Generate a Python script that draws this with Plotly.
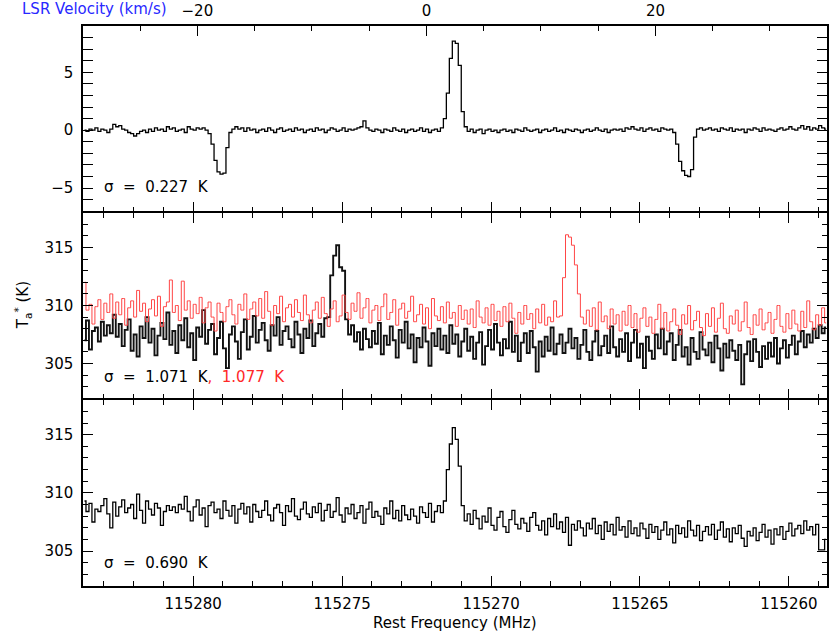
import numpy as np
import plotly.graph_objects as go

# ---------------- data ----------------
F_START = 115283.65   # MHz, first channel centre
D_CHAN = 0.1          # MHz channel spacing (frequency decreasing)
F_REST_REF = 115272.17  # MHz, frequency at V_LSR = 0 on the top axis
C_KMS = 299792.458

top_diff = [
    0.0, -0.1, 0.1, 0.0, 0.2, -0.1, 0.1, 0.0, -0.2, 0.1,
    0.5, 0.3, 0.4, 0.1, 0.0, -0.2, -0.3, -0.5, -0.3, -0.1,
    0.0, -0.2, 0.1, -0.1, 0.2, 0.0, 0.1, -0.1, 0.3, 0.1,
    0.2, -0.1, 0.0, 0.1, -0.2, 0.3, 0.1, 0.0, 0.2, 0.1,
    0.2, 0.0, -0.3, -1.2, -2.6, -3.6, -3.8, -3.7, -1.5, -0.2,
    0.1, 0.3, 0.1, 0.2, -0.1, 0.2, 0.0, 0.1, -0.2, 0.0,
    0.1, -0.1, 0.2, 0.0, -0.2, 0.1, 0.2, -0.1, 0.0, 0.1,
    -0.1, 0.2, 0.0, 0.1, -0.2, 0.0, 0.1, -0.1, 0.2, 0.0,
    0.1, -0.2, 0.0, 0.2, 0.1, -0.1, 0.0, 0.2, -0.1, 0.1,
    0.0, 0.1, 0.2, 0.3, 0.8, 0.2, 0.0, -0.1, 0.1, 0.0,
    -0.2, 0.1, 0.0, -0.1, 0.2, 0.0, -0.1, 0.1, -0.2, 0.0,
    0.1, -0.1, 0.0, 0.2, -0.1, 0.1, -0.2, 0.0, 0.1, -0.1,
    0.2, 1.0, 3.2, 6.2, 7.7, 7.5, 5.6, 1.6, 0.3, -0.1,
    0.1, -0.2, 0.0, 0.1, -0.3, 0.0, 0.1, -0.1, 0.0, -0.2,
    0.0, 0.1, -0.1, 0.0, -0.2, 0.1, 0.0, -0.1, 0.2, 0.0,
    -0.1, 0.0, 0.1, -0.2, 0.0, 0.1, -0.1, 0.0, 0.2, -0.1,
    0.0, -0.2, 0.1, 0.0, -0.1, 0.1, 0.0, -0.2, 0.0, 0.1,
    -0.1, 0.0, 0.2, 0.0, -0.1, 0.1, -0.2, 0.0, 0.1, 0.0,
    0.1, -0.1, 0.2, 0.1, 0.3, 0.1, 0.0, 0.2, -0.1, 0.1,
    0.2, 0.0, 0.1, -0.1, 0.2, 0.1, 0.0, 0.1, -0.2, -1.2,
    -2.7, -3.5, -3.9, -4.0, -3.4, -0.6, 0.1, 0.2, 0.0, 0.1,
    0.2, 0.0, 0.1, -0.1, 0.2, 0.1, 0.0, 0.2, -0.1, 0.1,
    0.0, 0.1, -0.2, 0.1, 0.0, 0.2, 0.1, -0.1, 0.2, 0.0,
    0.1, 0.0, -0.1, 0.1, 0.2, 0.0, 0.1, 0.3, 0.1, 0.0,
    0.2, 0.4, 0.1, 0.3, 0.0, 0.2, 0.1, 0.4, 0.2, 0.1,
]

mid_black = [
    307.0, 308.7, 306.2, 307.8, 308.1, 306.9, 308.6, 307.4, 308.3, 307.6,
    309.2, 307.3, 308.4, 306.5, 307.9, 308.8, 306.1, 307.5, 305.6, 308.2,
    307.2, 309.0, 306.8, 308.0, 305.7, 307.4, 308.5, 307.1, 309.4, 306.6,
    307.8, 305.9, 308.3, 307.0, 308.9, 306.4, 307.6, 305.3, 308.1, 307.3,
    309.6, 306.7, 307.9, 308.4, 305.8, 307.2, 308.6, 306.3, 304.6, 307.5,
    308.2, 306.9, 305.4, 307.7, 308.8, 306.2, 307.3, 309.1, 306.8, 307.9,
    308.5, 307.0, 306.1, 308.3, 307.4, 309.0, 306.6, 307.8, 308.2, 307.1,
    306.4, 308.6, 307.5, 305.9, 308.0, 307.2, 308.7, 306.5, 307.6, 308.4,
    307.3, 308.9, 309.0, 312.6, 314.3, 315.2, 313.3, 313.0, 308.8, 307.5,
    308.3, 306.9, 307.7, 306.2, 308.0, 307.1, 306.4, 307.8, 306.7, 308.5,
    305.8, 307.4, 306.6, 308.2, 307.0, 305.5, 307.9, 306.8, 308.6, 306.3,
    307.5, 305.1, 307.2, 306.4, 308.1, 306.9, 304.8, 307.6, 306.5, 308.0,
    306.2, 307.4, 305.9, 308.3, 306.7, 307.5, 305.6, 306.9, 308.0, 306.1,
    307.3, 305.4, 306.8, 307.7, 304.9, 306.5, 307.9, 306.2, 308.4, 306.8,
    305.7, 307.1, 306.3, 308.6, 306.0, 307.4, 305.2, 306.8, 307.6, 305.9,
    307.8, 306.4, 304.3, 306.9, 305.6, 307.3, 306.1, 308.1, 305.8, 306.7,
    307.5, 305.9, 306.8, 308.0, 306.3, 307.2, 305.4, 306.6, 307.9, 306.0,
    305.3, 306.9, 307.8, 305.7, 306.5, 307.4, 305.9, 308.2, 306.4, 305.6,
    307.1, 306.0, 307.6, 305.2, 306.8, 307.9, 305.5, 306.7, 304.6, 307.3,
    306.1, 305.4, 307.5, 306.3, 308.0, 305.8, 306.9, 307.6, 305.3, 306.6,
    307.9, 305.6, 306.4, 304.9, 307.2, 306.0, 305.4, 307.7, 306.2, 305.7,
    306.8, 305.1, 307.4, 306.3, 304.4, 306.7, 305.5, 307.0, 306.1, 305.3,
    306.6, 303.2, 305.8, 306.9, 305.2, 307.1, 306.0, 304.7, 306.5, 305.4,
    306.8, 305.6, 307.2, 305.0, 306.3, 307.0, 305.5, 306.6, 307.4, 305.8,
    306.9, 307.8, 306.4, 307.5, 306.8, 308.0, 307.2, 308.3, 307.6, 308.1,
]

mid_red = [
    312.0, 309.6, 310.1, 308.4, 309.9, 310.5, 308.8, 310.2, 309.4, 311.0,
    308.9, 310.3, 309.2, 310.6, 308.3, 309.8, 310.4, 309.0, 311.3, 309.5,
    310.2, 308.6, 309.7, 310.5, 309.1, 310.8, 308.2, 309.9, 310.3, 312.2,
    309.4, 310.0, 308.7, 312.1, 309.6, 310.4, 308.9, 310.1, 309.3, 310.7,
    308.5, 309.8, 310.3, 309.0, 307.8, 310.2, 309.4, 308.6, 309.9, 310.5,
    309.2, 308.4, 310.1, 309.6, 311.0, 308.8, 309.7, 310.3, 309.1, 310.6,
    308.9, 311.2, 309.5, 308.3, 310.0, 309.3, 310.8, 308.6, 309.8, 310.1,
    309.0, 310.5, 309.4, 308.7, 310.9, 309.2, 308.5, 309.6, 310.3, 308.9,
    310.7, 309.3, 308.2, 309.7, 310.4, 308.6, 309.1, 310.9, 309.4, 308.8,
    310.2, 309.5, 311.1, 308.9, 309.8, 310.6, 308.5, 309.6, 310.0, 308.7,
    309.9, 311.0, 308.8, 309.4, 310.5, 308.3, 309.7, 310.2, 308.9, 309.5,
    310.8, 308.6, 309.2, 310.1, 308.4, 309.8, 308.0, 310.6, 309.1, 308.7,
    309.9, 308.5, 310.3, 308.9, 309.4, 308.2, 310.0, 308.8, 309.6, 308.4,
    309.7, 308.1, 310.4, 309.0, 308.5, 309.8, 308.3, 310.1, 308.7, 309.5,
    308.2, 309.9, 308.6, 310.2, 308.9, 307.6, 309.4, 308.4, 310.0, 308.8,
    309.3, 308.0, 309.7, 308.5, 310.1, 308.3, 309.0, 308.6, 310.4, 309.0,
    309.1, 312.4, 316.1, 315.9, 315.2, 313.5, 311.0, 309.0, 308.4, 309.6,
    308.2, 309.8, 307.9, 310.3, 308.6, 309.1, 308.0, 309.7, 308.4, 309.2,
    307.8, 309.5, 308.3, 310.0, 308.1, 309.3, 307.7, 308.9, 309.8, 308.2,
    309.0, 307.6, 308.8, 310.1, 308.0, 309.4, 307.8, 308.6, 309.7, 308.3,
    307.5, 309.2, 308.4, 310.0, 307.9, 308.7, 309.5, 308.1, 307.4, 309.3,
    308.2, 309.8, 307.7, 308.9, 310.2, 308.0, 307.6, 309.1, 308.4, 309.6,
    307.8, 308.6, 310.3, 308.1, 307.5, 309.2, 308.3, 309.7, 307.9, 308.5,
    309.4, 307.6, 308.8, 310.0, 308.2, 307.7, 309.3, 308.0, 309.6, 308.4,
    307.8, 309.5, 308.1, 310.4, 308.6, 307.9, 309.2, 308.3, 309.8, 308.5,
]

bottom_spec = [
    309.3, 308.4, 309.1, 307.5, 308.6, 308.4, 308.9, 309.5, 308.2, 307.0,
    309.2, 308.0, 308.8, 309.4, 308.3, 308.7, 309.0, 307.8, 309.9, 308.5,
    307.4, 309.3, 308.6, 308.1, 309.1, 308.7, 307.2, 308.4, 308.9, 308.5,
    308.8, 308.3, 309.0, 308.6, 309.7, 308.4, 307.6, 308.8, 309.4, 308.1,
    308.7, 307.1, 308.9, 309.2, 308.3, 308.6, 307.8, 309.3, 308.5, 308.0,
    308.9, 307.4, 308.6, 309.1, 308.2, 308.8, 307.5, 309.0, 308.4, 307.9,
    308.5, 309.3, 308.1, 307.6, 308.7, 309.0, 308.3, 307.2, 308.9, 308.4,
    309.5, 308.0, 307.7, 308.6, 309.2, 308.2, 307.9, 308.8, 308.3, 309.1,
    307.6, 308.5, 309.0, 307.9, 308.4, 309.6, 308.1, 307.5, 308.7, 308.2,
    309.0, 307.8, 308.3, 308.9, 307.4, 308.6, 309.2, 307.9, 308.4, 308.0,
    307.3, 308.7, 308.2, 309.3, 307.8, 308.5, 307.6, 308.9, 308.1, 307.7,
    308.6, 308.0, 307.4, 308.8, 308.3, 307.9, 309.1, 307.5, 308.4, 308.9,
    308.3, 309.3, 312.0, 314.2, 315.6, 314.6, 312.3, 308.9, 307.6, 308.2,
    307.3, 308.5, 307.8, 306.9, 308.0, 307.5, 308.7, 307.2, 306.8, 307.9,
    308.4, 307.1, 306.6, 307.7, 308.5, 307.3, 306.9, 307.8, 307.4, 306.7,
    307.9, 308.3, 307.2, 306.8, 307.6, 306.4, 307.8, 307.1, 308.2, 306.9,
    307.5, 306.6, 307.9, 305.5, 307.3, 306.8, 307.6, 307.0, 306.3, 307.4,
    306.9, 307.8, 306.5, 307.2, 306.0, 307.5, 306.7, 307.3, 306.4, 307.9,
    306.8, 307.1, 306.2, 307.6, 306.5, 307.0, 306.3, 307.4, 306.9, 306.1,
    307.3, 306.6, 307.1, 306.0, 306.8, 307.5, 306.4, 306.9, 305.7, 307.2,
    306.5, 307.0, 306.2, 307.6, 306.8, 306.3, 307.2, 305.9, 306.7, 307.1,
    306.4, 307.3, 306.0, 306.8, 307.5, 306.2, 306.9, 305.8, 307.0, 306.5,
    307.2, 306.1, 305.4, 306.7, 306.3, 307.0, 305.9, 306.6, 307.3, 306.2,
    306.8, 305.6, 306.9, 306.4, 307.1, 306.0, 306.7, 307.4, 306.3, 306.9,
    307.2, 306.5, 307.6, 306.8, 307.1, 306.4, 307.3, 305.1, 305.1, 306.0,
]

sigma_top = "0.227"
sigma_mid_black = "1.071"
sigma_mid_red = "1.077"
sigma_bottom = "0.690"

freq_range = [115283.7, 115258.72]

# ---------------- figure ----------------
n_chan = len(top_diff)
freq = F_START - D_CHAN * np.arange(n_chan)
vel_range = [(F_REST_REF - f) / F_REST_REF * C_KMS for f in freq_range]

FONT = "DejaVu Sans"
FS = 15
BLACK = "#000000"
RED = "rgb(255,70,70)"
BLUE = "rgb(40,40,255)"
LW = 1.5

fig = go.Figure()
fig.add_trace(go.Scatter(x=freq, y=top_diff, mode="lines", line=dict(color=BLACK, width=1.3, shape="hvh"),
                         xaxis="x3", yaxis="y3", showlegend=False))
fig.add_trace(go.Scatter(x=freq, y=mid_black, mode="lines", line=dict(color="#111111", width=1.9, shape="hvh"),
                         xaxis="x2", yaxis="y2", showlegend=False))
fig.add_trace(go.Scatter(x=freq, y=mid_red, mode="lines", line=dict(color=RED, width=1.0, shape="hvh"),
                         xaxis="x2", yaxis="y2", showlegend=False))
fig.add_trace(go.Scatter(x=freq, y=bottom_spec, mode="lines", line=dict(color=BLACK, width=1.3, shape="hvh"),
                         xaxis="x", yaxis="y", showlegend=False))
# invisible trace to activate the velocity axis
fig.add_trace(go.Scatter(x=vel_range, y=[0, 0], mode="lines", line=dict(width=0), opacity=0,
                         xaxis="x4", yaxis="y3", showlegend=False, hoverinfo="skip"))

H_PLOT = 560.0
PLOT_BOTTOM = 586.0

def fy(ypix):
    return (PLOT_BOTTOM - ypix) / H_PLOT

# panel boundaries at y=399 and y=212 (line centres); leave a gap = line width so lines coincide
dom_bottom = [0, fy(399 + LW / 2)]
dom_mid = [fy(399 - LW / 2), fy(212 + LW / 2)]
dom_top = [fy(212 - LW / 2), 1]

axis_common = dict(showline=True, linecolor=BLACK, linewidth=LW, showgrid=False, zeroline=False,
                   ticks="inside", ticklen=10, tickwidth=1.3, tickcolor=BLACK,
                   tickfont=dict(family=FONT, size=FS, color=BLACK))
minor = dict(ticks="inside", ticklen=5, tickwidth=1.3, tickcolor=BLACK, dtick=1, showgrid=False)

xcommon = dict(axis_common, range=freq_range, dtick=5, tick0=115260, minor=minor)

fig.update_layout(
    width=830, height=632,
    margin=dict(l=83, r=1, t=26, b=46),
    paper_bgcolor="white", plot_bgcolor="white",
    font=dict(family=FONT, size=FS, color=BLACK),
    xaxis=dict(xcommon, anchor="y", mirror="allticks", ticklabelstandoff=3, tickformat="d"),
    xaxis2=dict(xcommon, anchor="y2", matches="x", mirror="allticks", showticklabels=False),
    xaxis3=dict(xcommon, anchor="y3", matches="x", mirror=True, showticklabels=False),
    xaxis4=dict(axis_common, overlaying="x3", side="top", anchor="y3", range=vel_range,
                showline=False, dtick=20, tick0=0, ticklabelstandoff=6,
                minor=dict(minor, dtick=5)),
    yaxis=dict(axis_common, domain=dom_bottom, range=[302, 318], dtick=5, minor=minor,
               mirror="allticks", ticklabelstandoff=5),
    yaxis2=dict(axis_common, domain=dom_mid, range=[302, 318], dtick=5, minor=minor,
                mirror="allticks", ticklabelstandoff=5),
    yaxis3=dict(axis_common, domain=dom_top, range=[-7, 9], dtick=5, minor=minor,
                mirror="allticks", ticklabelstandoff=5),
)

def fx(xpix):
    return (xpix - 83) / 746.0

sp = "\u00a0\u00a0"
ann_font = dict(family=FONT, size=FS, color=BLACK)
annotations = [
    dict(text=f"σ{sp}={sp}{sigma_top}{sp}K", x=fx(102), y=fy(187)),
    dict(text=f"σ{sp}={sp}{sigma_mid_black}{sp}K<span style='color:rgb(255,40,40)'>,{sp}{sigma_mid_red}{sp}K</span>",
         x=fx(102), y=fy(377)),
    dict(text=f"σ{sp}={sp}{sigma_bottom}{sp}K", x=fx(102), y=fy(563)),
]
for a in annotations:
    fig.add_annotation(xref="paper", yref="paper", xanchor="left", yanchor="middle",
                       showarrow=False, font=ann_font, **a)

fig.add_annotation(text="T<sub>a</sub><sup>*</sup> (K)", xref="paper", yref="paper",
                   x=fx(22), y=fy(305), xanchor="center", yanchor="middle",
                   textangle=-90, showarrow=False, font=ann_font)
fig.add_annotation(text="Rest Frequency (MHz)", xref="paper", yref="paper",
                   x=fx(456), y=fy(623), xanchor="center", yanchor="middle",
                   showarrow=False, font=ann_font)
fig.add_annotation(text="LSR Velocity (km/s)", xref="paper", yref="paper",
                   x=fx(169), y=fy(9), xanchor="right", yanchor="middle",
                   showarrow=False, font=dict(family=FONT, size=FS, color=BLUE))

fig.write_html("out.html", config={"displayModeBar": False},
               post_script="document.body.style.margin='0px';")
